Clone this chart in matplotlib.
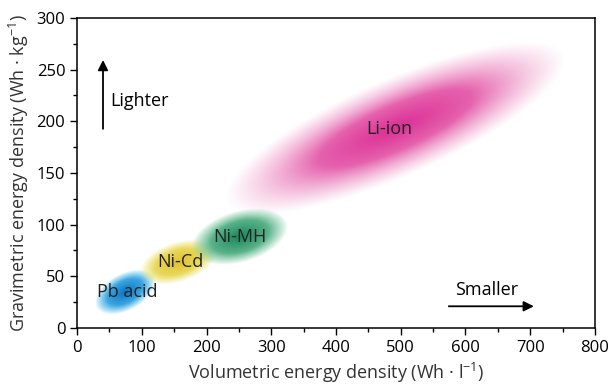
import numpy as np
import matplotlib
matplotlib.use("Agg")
import matplotlib.pyplot as plt
from matplotlib.colors import to_rgb

plt.rcParams['font.family'] = ['Open Sans', 'DejaVu Sans']
plt.rcParams['mathtext.fontset'] = 'custom'
plt.rcParams['mathtext.rm'] = 'Open Sans'
plt.rcParams['mathtext.default'] = 'regular'

# battery chemistries: ranges of volumetric (Wh/l) and gravimetric (Wh/kg) energy density
names = ['Pb acid', 'Ni-Cd', 'Ni-MH', 'Li-ion']
vol_min = [28, 98, 178, 230]
vol_max = [120, 214, 325, 754]
grav_min = [13, 42, 61, 110]
grav_max = [56, 85, 115, 276]
tilt = [0.45, 0.4, 0.35, 0.79]   # correlation between the two densities
label_x = [77, 159, 252, 482]
label_y = [35, 64, 88, 193]

center_colors = ['#0a74c6', '#e0c030', '#17865a', '#dc2e94']
edge_colors = ['#5cc6f2', '#eee878', '#86cfaa', '#f0a0cc']

fig, ax = plt.subplots(figsize=(6.12, 3.9), dpi=100)
fig.subplots_adjust(left=0.126, right=0.972, bottom=0.159, top=0.954)

xs = np.linspace(0, 800, 1000)
ys = np.linspace(0, 300, 500)
X, Y = np.meshgrid(xs, ys)

for i in range(len(names)):
    cx = (vol_min[i] + vol_max[i]) / 2
    cy = (grav_min[i] + grav_max[i]) / 2
    rx = (vol_max[i] - vol_min[i]) / 2
    ry = (grav_max[i] - grav_min[i]) / 2
    rho = tilt[i]
    u = (X - cx) / rx
    v = (Y - cy) / ry
    r = np.sqrt((u**2 - 2 * rho * u * v + v**2) / (1 - rho**2))
    t = np.clip(r, 0, 1)
    c0 = np.array(to_rgb(center_colors[i]))
    c1 = np.array(to_rgb(edge_colors[i]))
    rgb = c0[None, None, :] * (1 - t[..., None]) + c1[None, None, :] * t[..., None]
    if names[i] == 'Li-ion':
        alpha = np.clip((1.0 - r) / 0.55, 0, 1) ** 0.95
    else:
        alpha = np.clip((1.0 - r) / 0.4, 0, 1) ** 0.75
    img = np.dstack([rgb, alpha])
    ax.imshow(img, extent=(0, 800, 0, 300), origin='lower', aspect='auto',
              interpolation='bilinear', zorder=1)
    ax.text(label_x[i], label_y[i], names[i], fontsize=13, ha='center', va='center',
            color='#222222', zorder=3)

ax.annotate('', xy=(40, 262), xytext=(40, 190),
            arrowprops=dict(arrowstyle='-|>', color='black', lw=1.3, mutation_scale=15))
ax.text(51, 220, 'Lighter', fontsize=13, ha='left', va='center')
ax.annotate('', xy=(710, 21), xytext=(570, 21),
            arrowprops=dict(arrowstyle='-|>', color='black', lw=1.3, mutation_scale=15))
ax.text(632, 37, 'Smaller', fontsize=13, ha='center', va='center')

ax.set_xlim(0, 800)
ax.set_ylim(0, 300)
ax.set_xticks(range(0, 801, 100))
ax.set_yticks(range(0, 301, 50))
ax.set_xticks(range(50, 800, 100), minor=True)
ax.set_yticks(range(25, 300, 50), minor=True)
ax.tick_params(labelsize=12, direction='out', length=5, width=1)
ax.tick_params(which='minor', length=3, width=1)
for s in ax.spines.values():
    s.set_linewidth(1.1)
ax.set_xlabel('Volumetric energy density (Wh · l$^{-1}$)', fontsize=13, color='#333333')
ax.set_ylabel('Gravimetric energy density (Wh · kg$^{-1}$)', fontsize=13, color='#333333')

fig.savefig('out.png', dpi=100)
